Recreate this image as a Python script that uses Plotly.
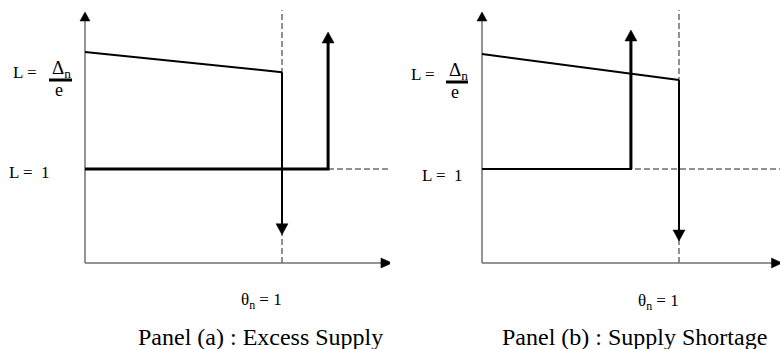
import plotly.graph_objects as go

# ---- data (theta_n on x, L on y) ----
theta_star = 1.0            # theta_n = 1
L_one = 1.0                 # L = 1
y_axis_top = 2.67
dash_v_top = 2.69

# Panel (a): excess supply
a_slope_theta = [0.0, 1.0]
a_slope_L = [2.245, 2.03]
a_drop_tip = 0.30
a_rise_theta = 1.234
a_rise_tip = 2.457
a_x_axis_end = 1.558
a_dash_h_end = 1.538

# Panel (b): supply shortage
b_slope_theta = [0.0, 1.0]
b_slope_L = [2.223, 1.947]
b_drop_tip = 0.234
b_rise_theta = 0.756
b_rise_tip = 2.479
b_x_axis_end = 1.525
b_dash_h_end = 1.56

W, H = 780, 349
PX_X = 197.0   # pixels per theta unit
PX_Y = 94.0    # pixels per L unit
FONT = "Liberation Serif"
AXIS_GRAY = "#707070"
DASH = "6px,3px"

# arrow-head outlines in pixels, tip at (0, 0); y grows upward
HEADS = {
    "up": "M0,0 L-6,-11 L6,-11 Z",
    "down": "M0,0 L-6,11 L6,11 Z",
    "right": "M0,0 L-11,-5 L-11,5 Z",
    "axis_up": "M0,0 L-5,-9 L5,-9 Z",
}

fig = go.Figure()
annotations = []
shapes = []


def line(xr, yr, xs, ys, color="black", width=2, dash=None):
    fig.add_trace(go.Scatter(x=xs, y=ys, mode="lines", xaxis=xr, yaxis=yr,
                             line=dict(color=color, width=width, dash=dash)))


def head(xr, yr, x, y, kind):
    shapes.append(dict(type="path", xref=xr, yref=yr,
                       xsizemode="pixel", ysizemode="pixel",
                       xanchor=x, yanchor=y, path=HEADS[kind],
                       fillcolor="black", line=dict(width=0.5, color="black"),
                       layer="above"))


def panel(xr, yr, slope_t, slope_L, drop_tip, rise_t, rise_tip,
          x_end, dash_end, flat_w):
    # dashed guides
    line(xr, yr, [theta_star, theta_star], [0, dash_v_top], "#222", 1, DASH)
    line(xr, yr, [0, dash_end], [L_one, L_one], "#222", 1, DASH)
    # axes with arrow heads
    line(xr, yr, [0, x_end - 5 / PX_X], [0, 0], AXIS_GRAY, 1.5)
    line(xr, yr, [0, 0], [0, y_axis_top - 5 / PX_Y], AXIS_GRAY, 1.5)
    head(xr, yr, 0, y_axis_top, "axis_up")
    head(xr, yr, x_end, 0, "right")
    # sloped line
    line(xr, yr, slope_t, slope_L, "black", 2)
    # drop at theta_n = 1 down past L = 1
    line(xr, yr, [theta_star, theta_star], [slope_L[1], drop_tip + 6 / PX_Y],
         "black", 2)
    head(xr, yr, theta_star, drop_tip, "down")
    # flat L = 1 segment, then the rising arrow
    line(xr, yr, [0, rise_t, rise_t], [L_one, L_one, rise_tip - 6 / PX_Y],
         "black", flat_w)
    if flat_w < 3:
        line(xr, yr, [rise_t, rise_t], [L_one, rise_tip - 6 / PX_Y], "black", 3)
    head(xr, yr, rise_t, rise_tip, "up")


panel("x", "y", a_slope_theta, a_slope_L, a_drop_tip, a_rise_theta,
      a_rise_tip, a_x_axis_end, a_dash_h_end, 3)
panel("x2", "y2", b_slope_theta, b_slope_L, b_drop_tip, b_rise_theta,
      b_rise_tip, b_x_axis_end, b_dash_h_end, 2)


def px(x):
    return x / W


def py(y):
    return 1 - y / H


def label(text, x, y, size, xanchor="center"):
    annotations.append(dict(text=text, x=px(x), y=py(y), xref="paper",
                            yref="paper", showarrow=False, xanchor=xanchor,
                            yanchor="middle",
                            font=dict(family=FONT, size=size, color="black")))


def frac_label(x_left, y_bar, bar_x0, bar_x1):
    label("L = ", x_left, y_bar - 8, 17, "left")
    cx = (bar_x0 + bar_x1) / 2
    label("Δ<sub>n</sub>", cx + 1, y_bar - 11, 19)
    label("e", cx - 2, y_bar + 10, 18)
    shapes.append(dict(type="line", xref="paper", yref="paper",
                       x0=px(bar_x0), x1=px(bar_x1), y0=py(y_bar), y1=py(y_bar),
                       line=dict(color="black", width=3)))


# Panel (a) text
frac_label(11, 80, 49, 72)
label("L =  1", 7, 172, 17, "left")
label("θ<sub>n</sub> = 1", 261, 301, 17)
label("Panel (a) : Excess Supply", 260, 337, 24)

# Panel (b) text
frac_label(409, 82, 446, 468)
label("L =  1", 420, 175, 17, "left")
label("θ<sub>n</sub> = 1", 658, 302, 17)
label("Panel (b) : Supply Shortage", 634, 337, 24)

y_range = [(263 - H) / PX_Y, 263 / PX_Y]
axis_common = dict(visible=False, showgrid=False, zeroline=False, fixedrange=True)
fig.update_layout(
    width=W, height=H,
    margin=dict(l=0, r=0, t=0, b=0),
    paper_bgcolor="white", plot_bgcolor="white",
    showlegend=False,
    xaxis=dict(axis_common, domain=[0, 0.5], range=[-85 / PX_X, 305 / PX_X]),
    yaxis=dict(axis_common, domain=[0, 1], range=y_range),
    xaxis2=dict(axis_common, domain=[0.5, 1],
                range=[(390 - 482) / PX_X, (780 - 482) / PX_X]),
    yaxis2=dict(axis_common, domain=[0, 1], range=y_range, anchor="x2"),
    annotations=annotations,
    shapes=shapes,
)
for tr in fig.data:
    tr.update(hoverinfo="skip", cliponaxis=False)

fig.write_html("out.html", config={"displayModeBar": False})
